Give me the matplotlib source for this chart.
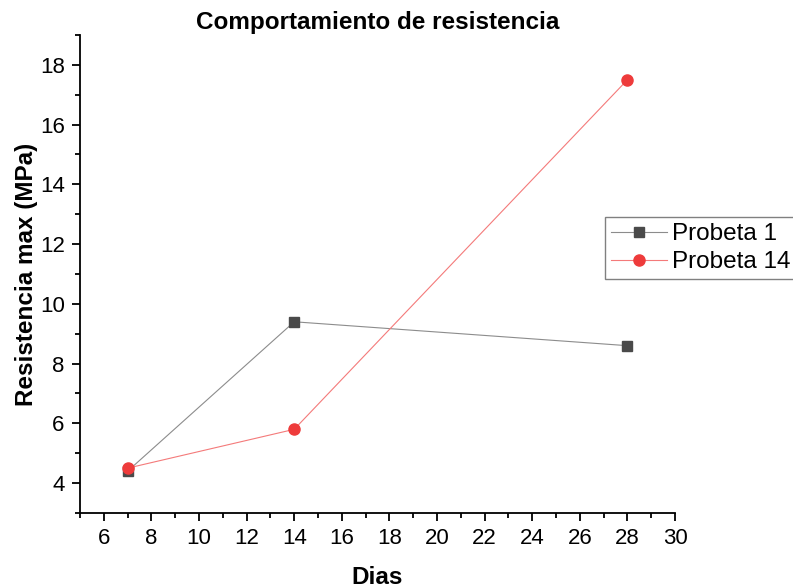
import matplotlib.pyplot as plt
from matplotlib.ticker import MultipleLocator

plt.rcParams['font.family'] = ['Liberation Sans', 'DejaVu Sans']

dias = [7, 14, 28]
probeta_1 = [4.4, 9.4, 8.6]
probeta_14 = [4.5, 5.8, 17.5]

fig = plt.figure(figsize=(7.93, 5.88), dpi=100)
ax = fig.add_axes([0.1009, 0.1276, 0.7503, 0.8129])

ax.plot(dias, probeta_1, color='#8c8c8c', lw=0.8, marker='s', ms=7,
        mfc='#4a4a4a', mec='#4a4a4a', label='Probeta 1')
ax.plot(dias, probeta_14, color='#f47a7a', lw=0.8, marker='o', ms=8,
        mfc='#ee3b3b', mec='#ee3b3b', label='Probeta 14')

ax.set_xlim(5, 30)
ax.set_ylim(3, 19)
ax.xaxis.set_minor_locator(MultipleLocator(1))
ax.yaxis.set_minor_locator(MultipleLocator(1))
ax.set_yticks([4, 6, 8, 10, 12, 14, 16, 18])
ax.set_xticks([6, 8, 10, 12, 14, 16, 18, 20, 22, 24, 26, 28, 30])

ax.spines['top'].set_visible(False)
ax.spines['right'].set_visible(False)
ax.spines['left'].set_linewidth(1.3)
ax.spines['bottom'].set_linewidth(1.3)
ax.tick_params(which='major', length=6, width=1.3, labelsize=16, pad=5)
ax.tick_params(which='minor', length=3.5, width=1.3)

ax.set_title('Comportamiento de resistencia', fontsize=17.5, fontweight='bold', pad=4)
ax.set_xlabel('Dias', fontsize=17.5, fontweight='bold', labelpad=12)
ax.set_ylabel('Resistencia max (MPa)', fontsize=17.5, fontweight='bold', labelpad=1)

leg = ax.legend(loc='upper left', bbox_to_anchor=(605 / 793, 1 - 217 / 588),
                bbox_transform=fig.transFigure, fontsize=17.5, frameon=True,
                fancybox=False, edgecolor='#606060', handlelength=2.3,
                borderpad=0.25, labelspacing=0.25, handletextpad=0.2, borderaxespad=0)
leg.get_frame().set_linewidth(1.0)

fig.savefig('out.png', dpi=100)
